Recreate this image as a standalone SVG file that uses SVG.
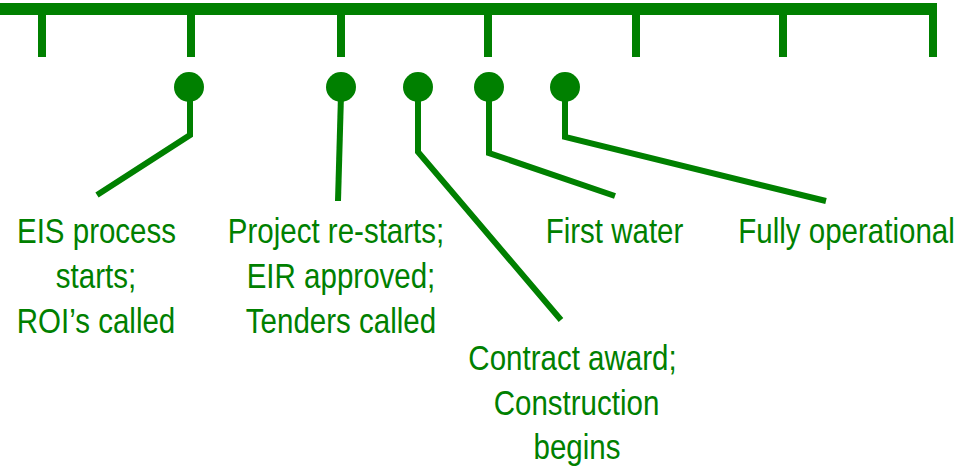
<svg xmlns="http://www.w3.org/2000/svg" width="970" height="469" viewBox="0 0 970 469">
<style>
.g{fill:#008000}
.ln{fill:none;stroke:#008000;stroke-width:6;stroke-linejoin:miter}
.tk{stroke:#008000;stroke-width:8}
text{font-family:"Liberation Sans",Arial,sans-serif;font-size:36px;fill:#008000;text-anchor:middle}
</style>
<rect width="970" height="469" fill="#fff"/>
<g id="timeline">
<rect class="g" x="0" y="3" width="937" height="12"/>
<line class="tk" x1="42" y1="14" x2="42" y2="57"/>
<line class="tk" x1="191" y1="14" x2="191" y2="57"/>
<line class="tk" x1="341" y1="14" x2="341" y2="57"/>
<line class="tk" x1="488" y1="14" x2="488" y2="57"/>
<line class="tk" x1="636" y1="14" x2="636" y2="57"/>
<line class="tk" x1="783" y1="14" x2="783" y2="57"/>
<line class="tk" x1="933" y1="7" x2="933" y2="57"/>
</g>
<g id="connectors">
<polyline class="ln" points="190,95 190,135 97,195"/>
<polyline class="ln" points="341,95 338,201"/>
<polyline class="ln" points="418,95 418,152 561,320"/>
<polyline class="ln" points="489,95 489,153 615,196"/>
<polyline class="ln" points="565,95 565,137 826,201"/>
</g>
<g id="m1"><circle class="g" cx="189" cy="87" r="15"/>
<text transform="translate(96.5,243) scale(0.82,1)">EIS process</text>
<text transform="translate(96,288) scale(0.82,1)">starts;</text>
<text transform="translate(96,333) scale(0.82,1)">ROI’s called</text></g>
<g id="m2"><circle class="g" cx="341" cy="87" r="15"/>
<text transform="translate(336,243) scale(0.82,1)">Project re-starts;</text>
<text transform="translate(341,288) scale(0.82,1)">EIR approved;</text>
<text transform="translate(341,333) scale(0.82,1)">Tenders called</text></g>
<g id="m3"><circle class="g" cx="418" cy="87" r="15"/>
<text transform="translate(572.5,370) scale(0.82,1)">Contract award;</text>
<text transform="translate(576.5,415) scale(0.82,1)">Construction</text>
<text transform="translate(577,459) scale(0.82,1)">begins</text></g>
<g id="m4"><circle class="g" cx="489" cy="87" r="15"/>
<text transform="translate(614.5,243) scale(0.82,1)">First water</text></g>
<g id="m5"><circle class="g" cx="565" cy="87" r="15"/>
<text transform="translate(846.5,243) scale(0.82,1)">Fully operational</text></g>
</svg>
